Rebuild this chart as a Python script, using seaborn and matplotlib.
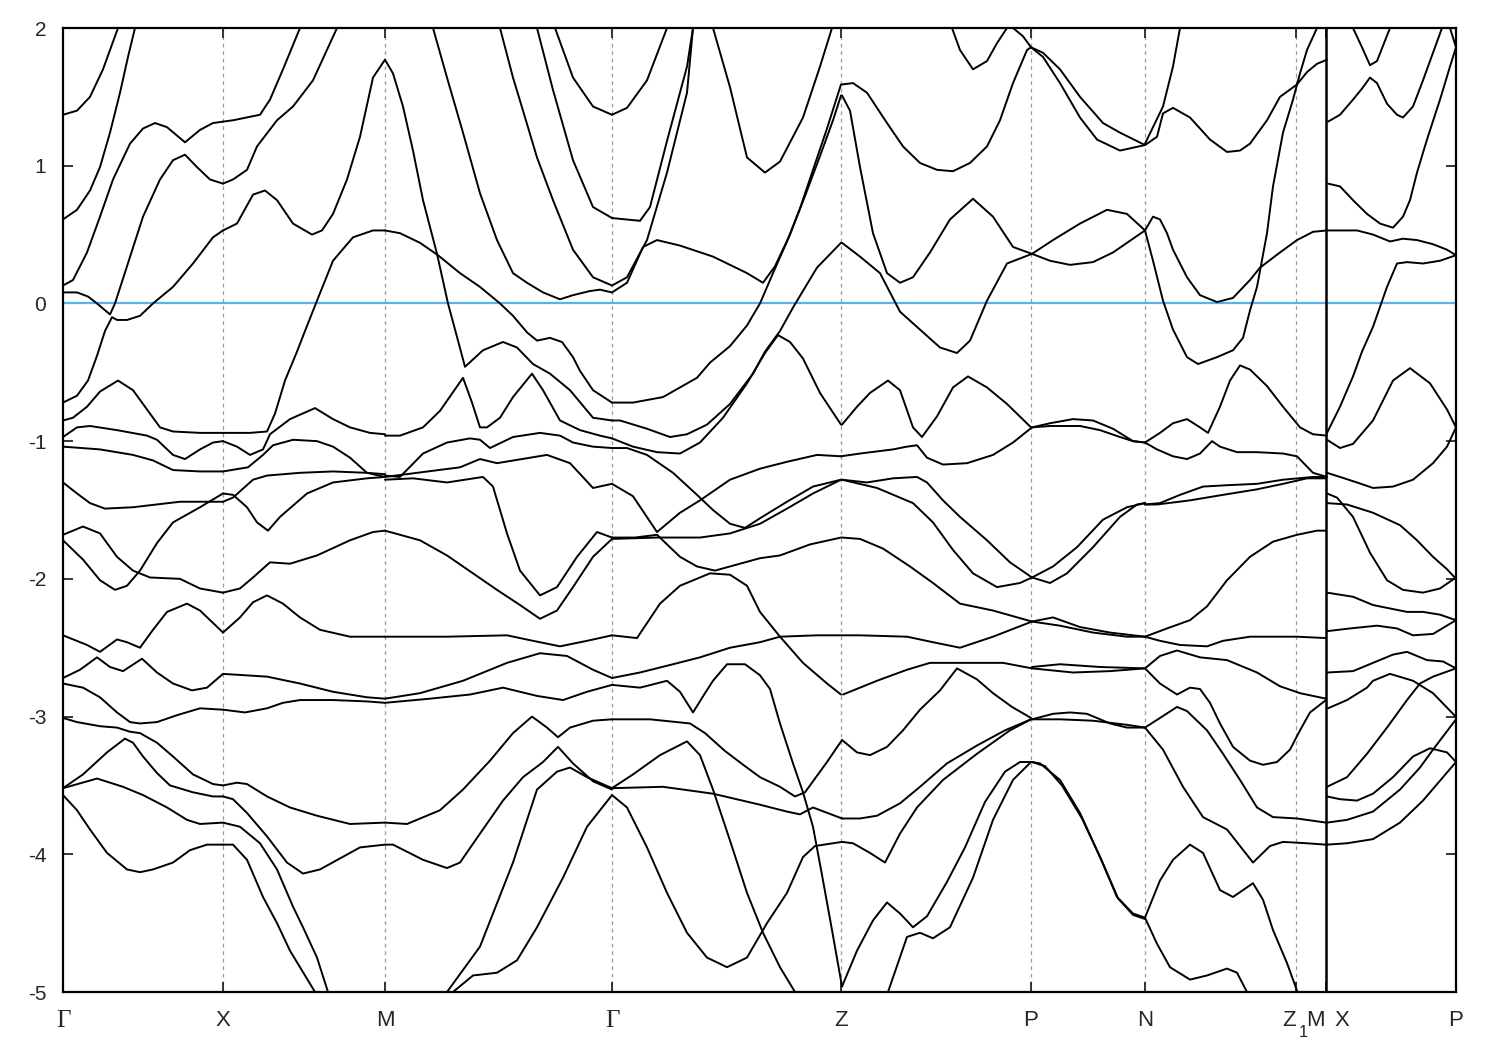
import pandas as pd
import seaborn as sns
import matplotlib.pyplot as plt

# k-path positions (arbitrary path-length units) and labels
KPOINTS = [0, 160, 322, 549, 778, 968, 1082, 1233, 1263, 1393]
FERMI = 0.0

# ---- bands, per path segment: lists of (k, E[eV]) ----
gamma_x = [
    [(0, 1.37), (14, 1.40), (27, 1.50), (40, 1.70), (55, 2.0)],
    [(0, 0.61), (14, 0.68), (27, 0.82), (37, 0.99), (47, 1.24), (57, 1.53), (65, 1.79), (72, 2.0)],
    [(0, 0.13), (10, 0.17), (24, 0.37), (37, 0.63), (50, 0.90), (67, 1.16), (80, 1.27), (92, 1.31),
     (104, 1.28), (122, 1.17), (137, 1.26), (150, 1.31), (160, 1.32)],
    [(0, 0.08), (14, 0.08), (25, 0.05), (34, 0.0), (47, -0.08), (52, 0.0), (64, 0.27), (80, 0.63),
     (97, 0.90), (110, 1.04), (122, 1.08), (134, 0.99), (147, 0.90), (160, 0.87)],
    [(0, -0.72), (14, -0.67), (25, -0.56), (34, -0.38), (42, -0.2), (49, -0.10), (54, -0.12),
     (64, -0.12), (77, -0.09), (90, 0.0), (110, 0.12), (130, 0.29), (150, 0.48), (160, 0.53)],
    [(0, -0.85), (10, -0.83), (24, -0.75), (37, -0.64), (55, -0.56), (70, -0.63), (84, -0.77),
     (97, -0.90), (110, -0.93), (137, -0.94), (160, -0.94)],
    [(0, -0.97), (14, -0.90), (27, -0.89), (54, -0.92), (84, -0.96), (94, -0.99), (110, -1.10),
     (122, -1.13), (137, -1.06), (150, -1.01), (160, -1.0)],
    [(0, -1.04), (37, -1.06), (70, -1.10), (90, -1.14), (110, -1.21), (137, -1.22), (160, -1.22)],
    [(0, -1.30), (14, -1.38), (27, -1.45), (42, -1.49), (70, -1.48), (117, -1.44), (160, -1.44)],
    [(0, -1.68), (20, -1.62), (37, -1.67), (54, -1.84), (70, -1.94), (87, -1.99), (117, -2.0),
     (137, -2.07), (160, -2.10)],
    [(0, -1.72), (20, -1.86), (37, -2.01), (52, -2.08), (64, -2.05), (77, -1.94), (94, -1.74),
     (110, -1.59), (137, -1.48), (160, -1.38)],
    [(0, -2.41), (24, -2.48), (37, -2.53), (54, -2.44), (64, -2.46), (77, -2.50), (90, -2.37),
     (104, -2.24), (124, -2.18), (137, -2.23), (150, -2.32), (160, -2.39)],
    [(0, -2.72), (17, -2.66), (34, -2.57), (47, -2.64), (60, -2.67), (79, -2.58), (94, -2.68),
     (110, -2.76), (129, -2.81), (144, -2.79), (160, -2.69)],
    [(0, -2.76), (20, -2.79), (37, -2.86), (54, -2.97), (67, -3.04), (77, -3.05), (94, -3.04),
     (114, -2.99), (137, -2.94), (160, -2.95)],
    [(0, -3.01), (14, -3.04), (37, -3.07), (54, -3.08), (67, -3.11), (77, -3.12), (94, -3.19),
     (110, -3.29), (130, -3.42), (150, -3.49), (160, -3.50)],
    [(0, -3.52), (20, -3.42), (44, -3.26), (62, -3.16), (70, -3.19), (80, -3.29), (94, -3.41),
     (107, -3.50), (130, -3.55), (150, -3.58), (160, -3.58)],
    [(0, -3.52), (34, -3.45), (60, -3.51), (80, -3.57), (104, -3.66), (124, -3.75), (137, -3.78),
     (160, -3.77)],
    [(0, -3.57), (14, -3.68), (27, -3.82), (44, -3.99), (64, -4.11), (77, -4.13), (90, -4.11),
     (110, -4.06), (127, -3.97), (144, -3.93), (160, -3.93)],
]

x_m = [
    [(160, 1.32), (170, 1.33), (197, 1.37), (207, 1.48), (220, 1.70), (237, 2.0)],
    [(160, 0.87), (170, 0.90), (184, 0.97), (194, 1.14), (214, 1.33), (230, 1.43), (250, 1.62), (274, 2.0)],
    [(160, 0.53), (174, 0.58), (190, 0.79), (202, 0.82), (214, 0.75), (230, 0.58), (249, 0.50),
     (259, 0.53), (270, 0.65), (284, 0.90), (297, 1.21), (310, 1.64), (322, 1.77)],
    [(160, -0.94), (187, -0.94), (204, -0.93), (212, -0.8), (222, -0.56), (234, -0.35), (242, -0.2),
     (254, 0.02), (270, 0.31), (290, 0.48), (310, 0.53), (322, 0.53)],
    [(160, -1.0), (174, -1.04), (187, -1.10), (200, -1.06), (207, -0.95), (227, -0.84), (252, -0.76),
     (270, -0.84), (287, -0.90), (307, -0.94), (322, -0.95)],
    [(160, -1.22), (185, -1.19), (200, -1.10), (210, -1.03), (230, -0.99), (254, -1.0), (270, -1.04),
     (287, -1.12), (304, -1.23), (322, -1.26)],
    [(160, -1.44), (170, -1.41), (190, -1.28), (204, -1.25), (237, -1.23), (270, -1.22), (304, -1.23),
     (322, -1.24)],
    [(160, -1.38), (170, -1.39), (184, -1.48), (194, -1.59), (205, -1.65), (217, -1.55), (244, -1.38),
     (270, -1.30), (304, -1.27), (322, -1.26)],
    [(160, -2.10), (177, -2.07), (190, -1.99), (207, -1.88), (227, -1.89), (254, -1.83), (287, -1.72),
     (310, -1.66), (322, -1.65)],
    [(160, -2.39), (177, -2.28), (190, -2.17), (204, -2.12), (220, -2.18), (237, -2.28), (257, -2.37),
     (287, -2.42), (322, -2.42)],
    [(160, -2.69), (204, -2.71), (237, -2.76), (270, -2.82), (304, -2.86), (322, -2.87)],
    [(160, -2.95), (182, -2.97), (204, -2.94), (220, -2.90), (237, -2.88), (270, -2.88), (304, -2.89),
     (322, -2.90)],
    [(160, -3.50), (174, -3.48), (184, -3.49), (204, -3.58), (227, -3.66), (254, -3.72), (287, -3.78),
     (322, -3.77)],
    [(160, -3.58), (170, -3.60), (184, -3.70), (204, -3.87), (224, -4.06), (240, -4.14), (257, -4.11),
     (297, -3.95), (322, -3.93)],
    [(160, -3.77), (177, -3.80), (197, -3.92), (214, -4.11), (230, -4.38), (240, -4.53), (254, -4.75),
     (265, -5.0)],
    [(160, -3.93), (170, -3.93), (184, -4.04), (200, -4.31), (214, -4.50), (227, -4.70), (252, -5.0)],
]

m_gamma = [
    [(322, 1.77), (330, 1.67), (340, 1.43), (350, 1.11), (360, 0.75), (374, 0.36), (385, 0.0),
     (395, -0.27), (402, -0.46), (420, -0.34), (440, -0.28), (454, -0.32), (470, -0.44), (487, -0.51),
     (507, -0.63), (530, -0.83), (549, -0.85)],
    [(322, 0.53), (337, 0.51), (357, 0.44), (375, 0.35), (397, 0.22), (417, 0.12), (437, 0.0),
     (450, -0.09), (464, -0.21), (474, -0.27), (487, -0.25), (499, -0.28), (510, -0.39), (517, -0.49),
     (530, -0.63), (549, -0.72)],
    [(322, -0.96), (337, -0.96), (360, -0.90), (377, -0.78), (400, -0.54), (409, -0.72), (417, -0.90),
     (424, -0.90), (437, -0.83), (450, -0.68), (469, -0.51), (480, -0.63), (497, -0.85), (517, -0.92),
     (537, -0.96), (549, -0.98)],
    [(322, -1.25), (337, -1.26), (360, -1.09), (384, -1.01), (407, -0.98), (417, -0.99), (427, -1.05),
     (450, -0.97), (477, -0.94), (497, -0.96), (510, -1.01), (530, -1.04), (549, -1.05)],
    [(322, -1.26), (397, -1.19), (417, -1.13), (434, -1.16), (484, -1.10), (507, -1.16), (530, -1.34),
     (549, -1.31)],
    [(322, -1.28), (350, -1.27), (384, -1.30), (420, -1.26), (430, -1.33), (444, -1.67), (457, -1.94),
     (477, -2.12), (494, -2.06), (514, -1.84), (534, -1.66), (549, -1.70)],
    [(322, -1.65), (357, -1.72), (384, -1.83), (410, -1.96), (434, -2.08), (457, -2.19), (477, -2.29),
     (494, -2.23), (510, -2.06), (530, -1.84), (549, -1.71)],
    [(322, -2.42), (384, -2.42), (444, -2.41), (470, -2.45), (497, -2.49), (524, -2.45), (549, -2.41)],
    [(322, -2.87), (357, -2.83), (400, -2.74), (444, -2.61), (477, -2.54), (504, -2.56), (530, -2.66),
     (549, -2.72)],
    [(322, -2.90), (367, -2.87), (407, -2.84), (440, -2.79), (474, -2.85), (500, -2.88), (524, -2.82),
     (549, -2.77)],
    [(322, -3.77), (344, -3.78), (377, -3.68), (400, -3.53), (427, -3.32), (450, -3.12), (469, -3.00),
     (484, -3.08), (495, -3.15), (507, -3.08), (530, -3.03), (549, -3.02)],
    [(322, -3.93), (330, -3.93), (360, -4.04), (384, -4.10), (397, -4.06), (417, -3.85), (440, -3.61),
     (460, -3.44), (480, -3.33), (495, -3.22), (510, -3.34), (530, -3.47), (549, -3.53)],
    [(384, -5.0), (417, -4.67), (450, -4.06), (474, -3.53), (494, -3.40), (507, -3.37), (524, -3.44),
     (549, -3.52)],
    [(390, -5.0), (410, -4.88), (434, -4.86), (454, -4.77), (474, -4.53), (500, -4.17), (524, -3.80),
     (549, -3.57)],
    [(370, 2.0), (384, 1.64), (400, 1.24), (417, 0.80), (434, 0.46), (450, 0.22), (464, 0.15),
     (480, 0.08), (497, 0.03), (510, 0.06), (527, 0.09), (537, 0.10), (549, 0.08)],
    [(437, 2.0), (450, 1.64), (460, 1.40), (474, 1.06), (490, 0.75), (510, 0.39), (530, 0.19), (549, 0.13)],
    [(474, 2.0), (490, 1.55), (510, 1.04), (530, 0.70), (549, 0.62)],
    [(492, 2.0), (510, 1.64), (530, 1.43), (549, 1.37)],
]

gamma_z = [
    [(549, 0.08), (564, 0.15), (580, 0.41), (594, 0.46), (617, 0.42), (650, 0.34), (684, 0.22),
     (700, 0.15), (712, 0.27), (727, 0.50), (742, 0.78), (757, 1.07), (770, 1.33), (778, 1.51)],
    [(549, 0.13), (564, 0.19), (584, 0.46), (604, 0.95), (624, 1.53), (630, 2.0)],
    [(549, 0.62), (577, 0.60), (587, 0.70), (604, 1.18), (624, 1.72), (630, 2.0)],
    [(549, 1.37), (564, 1.42), (584, 1.62), (604, 2.0)],
    [(650, 2.0), (667, 1.57), (684, 1.06), (702, 0.95), (717, 1.03), (740, 1.35), (757, 1.72), (769, 2.0)],
    [(549, -0.72), (570, -0.72), (600, -0.68), (634, -0.54), (647, -0.43), (667, -0.31), (684, -0.16),
     (697, 0.0), (710, 0.22), (724, 0.45), (737, 0.69), (750, 0.97), (764, 1.27), (778, 1.59)],
    [(549, -0.85), (557, -0.85), (584, -0.91), (607, -0.97), (624, -0.95), (644, -0.88), (667, -0.73),
     (690, -0.51), (702, -0.35), (717, -0.20), (730, -0.03), (754, 0.26), (778, 0.44)],
    [(549, -0.98), (570, -1.04), (594, -1.08), (617, -1.09), (637, -1.01), (660, -0.83), (684, -0.58),
     (702, -0.36), (715, -0.23), (727, -0.28), (740, -0.40), (757, -0.65), (778, -0.88)],
    [(549, -1.05), (564, -1.05), (584, -1.10), (610, -1.23), (634, -1.39), (650, -1.50), (667, -1.60),
     (682, -1.63), (697, -1.56), (724, -1.44), (750, -1.33), (778, -1.28)],
    [(549, -1.31), (570, -1.40), (582, -1.53), (594, -1.66), (617, -1.52), (637, -1.43), (667, -1.28),
     (697, -1.20), (724, -1.15), (754, -1.10), (778, -1.11)],
    [(549, -1.70), (572, -1.70), (594, -1.68), (617, -1.84), (634, -1.91), (652, -1.94), (672, -1.90),
     (697, -1.85), (717, -1.83), (747, -1.75), (778, -1.70)],
    [(549, -1.71), (594, -1.70), (637, -1.70), (667, -1.67), (697, -1.60), (724, -1.49), (750, -1.38),
     (778, -1.28)],
    [(549, -2.41), (574, -2.43), (597, -2.18), (617, -2.05), (647, -1.96), (667, -1.97), (684, -2.05),
     (697, -2.24), (717, -2.42), (740, -2.61), (764, -2.76), (778, -2.84)],
    [(549, -2.72), (577, -2.68), (610, -2.62), (637, -2.57), (667, -2.50), (697, -2.46), (717, -2.42),
     (754, -2.41), (778, -2.41)],
    [(549, -2.77), (577, -2.79), (604, -2.74), (617, -2.82), (630, -2.97), (642, -2.83), (650, -2.74),
     (664, -2.62), (682, -2.62), (697, -2.70), (707, -2.80), (717, -3.05), (730, -3.34), (740, -3.55),
     (750, -3.80), (759, -4.15), (769, -4.55), (779, -4.96)],
    [(549, -3.02), (587, -3.02), (627, -3.05), (642, -3.12), (662, -3.25), (682, -3.36), (697, -3.44),
     (717, -3.51), (732, -3.58), (742, -3.55), (752, -3.45), (764, -3.33), (779, -3.17)],
    [(549, -3.52), (600, -3.51), (650, -3.56), (697, -3.64), (724, -3.69), (737, -3.71), (750, -3.66),
     (779, -3.74)],
    [(549, -3.57), (564, -3.66), (584, -3.95), (604, -4.28), (624, -4.57), (644, -4.75), (664, -4.82),
     (684, -4.75), (704, -4.50), (724, -4.28), (740, -4.02), (752, -3.94), (779, -3.91)],
    [(549, -3.52), (570, -3.42), (597, -3.28), (624, -3.18), (637, -3.28), (650, -3.53), (667, -3.90),
     (684, -4.28), (700, -4.57), (717, -4.82), (732, -5.0)],
]

z_p = [
    [(779, 1.59), (790, 1.60), (804, 1.53), (824, 1.31), (840, 1.14), (857, 1.02), (874, 0.97),
     (890, 0.96), (907, 1.02), (924, 1.14), (937, 1.33), (950, 1.60), (964, 1.84), (968, 1.86)],
    [(779, 1.51), (787, 1.40), (797, 0.99), (810, 0.51), (824, 0.22), (837, 0.15), (850, 0.19),
     (867, 0.37), (887, 0.61), (910, 0.76), (930, 0.63), (950, 0.41), (969, 0.36)],
    [(889, 2.0), (897, 1.84), (910, 1.70), (924, 1.76), (934, 1.89), (944, 2.0)],
    [(950, 2.0), (960, 1.94), (968, 1.86)],
    [(779, 0.44), (797, 0.34), (817, 0.22), (837, -0.06), (857, -0.19), (877, -0.32), (894, -0.36),
     (907, -0.27), (924, 0.02), (944, 0.29), (969, 0.36)],
    [(779, -0.88), (794, -0.75), (807, -0.65), (825, -0.56), (837, -0.63), (850, -0.90), (859, -0.97),
     (874, -0.82), (890, -0.61), (905, -0.53), (924, -0.61), (944, -0.73), (968, -0.90)],
    [(778, -1.11), (797, -1.09), (830, -1.06), (844, -1.04), (854, -1.03), (864, -1.12), (880, -1.17),
     (904, -1.16), (930, -1.10), (950, -1.01), (969, -0.90)],
    [(779, -1.28), (804, -1.30), (830, -1.27), (854, -1.26), (864, -1.30), (880, -1.43), (897, -1.55),
     (924, -1.72), (947, -1.88), (969, -1.99)],
    [(779, -1.28), (814, -1.34), (850, -1.45), (870, -1.59), (890, -1.79), (910, -1.96), (934, -2.06),
     (957, -2.03), (969, -1.99)],
    [(779, -1.70), (797, -1.71), (820, -1.78), (847, -1.91), (870, -2.03), (897, -2.18), (930, -2.23),
     (969, -2.31)],
    [(779, -2.41), (797, -2.41), (844, -2.42), (870, -2.46), (897, -2.50), (930, -2.42), (969, -2.31)],
    [(780, -2.84), (814, -2.74), (844, -2.66), (867, -2.61), (897, -2.61), (940, -2.61), (969, -2.65)],
    [(779, -3.17), (794, -3.26), (807, -3.28), (824, -3.22), (840, -3.10), (857, -2.95), (877, -2.81),
     (894, -2.65), (914, -2.73), (930, -2.83), (949, -2.93), (968, -3.01)],
    [(779, -3.74), (797, -3.74), (814, -3.72), (837, -3.63), (857, -3.51), (884, -3.34), (914, -3.21),
     (942, -3.10), (968, -3.02)],
    [(779, -3.91), (790, -3.92), (807, -3.99), (822, -4.06), (837, -3.85), (854, -3.66), (880, -3.46),
     (914, -3.27), (947, -3.10), (968, -3.02)],
    [(779, -4.96), (794, -4.70), (810, -4.48), (824, -4.35), (837, -4.43), (850, -4.53), (864, -4.45),
     (884, -4.20), (902, -3.95), (922, -3.62), (942, -3.40), (957, -3.33), (968, -3.33)],
    [(825, -5.0), (844, -4.60), (857, -4.57), (870, -4.61), (887, -4.53), (910, -4.17), (930, -3.75),
     (950, -3.46), (968, -3.33)],
]

p_n = [
    [(968, 1.86), (980, 1.82), (997, 1.70), (1017, 1.50), (1040, 1.31), (1057, 1.24), (1082, 1.15)],
    [(968, 1.86), (980, 1.79), (997, 1.60), (1017, 1.35), (1034, 1.19), (1057, 1.11), (1082, 1.15)],
    [(969, 0.36), (990, 0.46), (1017, 0.58), (1044, 0.68), (1064, 0.65), (1082, 0.53)],
    [(969, 0.36), (987, 0.31), (1007, 0.28), (1030, 0.30), (1050, 0.37), (1082, 0.53)],
    [(969, -0.90), (987, -0.87), (1010, -0.84), (1030, -0.85), (1050, -0.91), (1070, -1.0), (1082, -1.01)],
    [(969, -0.90), (987, -0.89), (1017, -0.89), (1037, -0.92), (1057, -0.97), (1070, -1.0), (1082, -1.01)],
    [(969, -1.99), (987, -2.03), (1004, -1.96), (1030, -1.77), (1057, -1.55), (1074, -1.46), (1082, -1.45)],
    [(969, -1.99), (990, -1.91), (1014, -1.77), (1040, -1.57), (1064, -1.48), (1082, -1.45)],
    [(969, -2.31), (997, -2.34), (1030, -2.39), (1064, -2.42), (1082, -2.42)],
    [(969, -2.31), (990, -2.28), (1017, -2.35), (1047, -2.39), (1082, -2.42)],
    [(969, -2.65), (1010, -2.68), (1047, -2.67), (1082, -2.65)],
    [(969, -2.64), (997, -2.62), (1037, -2.64), (1082, -2.65)],
    [(969, -3.02), (990, -2.98), (1007, -2.97), (1024, -2.98), (1047, -3.05), (1064, -3.08), (1082, -3.08)],
    [(969, -3.02), (997, -3.02), (1030, -3.03), (1064, -3.06), (1082, -3.08)],
    [(969, -3.33), (977, -3.34), (997, -3.46), (1017, -3.70), (1037, -4.02), (1054, -4.31), (1070, -4.43),
     (1082, -4.46)],
    [(969, -3.33), (982, -3.36), (999, -3.50), (1019, -3.74), (1039, -4.05), (1055, -4.32), (1070, -4.44),
     (1082, -4.47)],
]

n_z1_m = [
    [(1082, 1.16), (1090, 1.28), (1100, 1.43), (1110, 1.72), (1117, 2.0)],
    [(1082, 1.15), (1094, 1.21), (1100, 1.38), (1110, 1.42), (1127, 1.35), (1147, 1.19), (1164, 1.10),
     (1177, 1.11), (1187, 1.16), (1204, 1.33), (1217, 1.50), (1234, 1.59)],
    [(1234, 1.59), (1244, 1.68), (1254, 1.74), (1264, 1.77)],
    [(1234, 1.59), (1237, 1.67), (1244, 1.84), (1254, 2.0)],
    [(1082, 0.53), (1090, 0.63), (1097, 0.61), (1104, 0.51), (1110, 0.39), (1124, 0.19), (1137, 0.06),
     (1154, 0.01), (1170, 0.04), (1187, 0.17), (1197, 0.26), (1217, 0.37), (1234, 0.46), (1250, 0.52),
     (1264, 0.53)],
    [(1082, 0.53), (1090, 0.31), (1100, 0.02), (1110, -0.19), (1124, -0.39), (1135, -0.44), (1154, -0.39),
     (1170, -0.34), (1180, -0.25), (1187, -0.05), (1194, 0.12), (1204, 0.51), (1210, 0.85), (1220, 1.24),
     (1230, 1.48), (1234, 1.59)],
    [(1082, -1.01), (1097, -0.94), (1110, -0.87), (1124, -0.84), (1137, -0.90), (1145, -0.94),
     (1157, -0.75), (1167, -0.56), (1177, -0.45), (1187, -0.48), (1204, -0.60), (1220, -0.75),
     (1237, -0.90), (1250, -0.95), (1264, -0.96)],
    [(1082, -1.01), (1094, -1.06), (1110, -1.11), (1124, -1.13), (1137, -1.09), (1149, -1.0), (1157, -1.04),
     (1174, -1.08), (1194, -1.08), (1220, -1.09), (1234, -1.11), (1250, -1.23), (1264, -1.26)],
    [(1082, -1.46), (1097, -1.45), (1117, -1.39), (1140, -1.33), (1164, -1.32), (1194, -1.31),
     (1220, -1.28), (1250, -1.26), (1263, -1.26)],
    [(1082, -1.46), (1094, -1.46), (1127, -1.43), (1160, -1.39), (1194, -1.35), (1220, -1.31),
     (1244, -1.27), (1263, -1.27)],
    [(1082, -2.42), (1104, -2.36), (1127, -2.30), (1144, -2.20), (1164, -2.01), (1187, -1.84),
     (1210, -1.73), (1234, -1.68), (1254, -1.65), (1263, -1.65)],
    [(1082, -2.42), (1097, -2.45), (1117, -2.48), (1144, -2.49), (1160, -2.45), (1187, -2.42),
     (1234, -2.42), (1263, -2.43)],
    [(1082, -2.65), (1097, -2.56), (1114, -2.52), (1137, -2.57), (1164, -2.59), (1194, -2.68),
     (1217, -2.78), (1237, -2.83), (1263, -2.87)],
    [(1082, -2.65), (1097, -2.76), (1114, -2.84), (1127, -2.79), (1137, -2.80), (1147, -2.90),
     (1157, -3.05), (1170, -3.22), (1187, -3.32), (1200, -3.35), (1214, -3.33), (1227, -3.24),
     (1237, -3.10), (1247, -2.97), (1263, -2.88)],
    [(1082, -3.08), (1097, -3.01), (1114, -2.93), (1124, -2.96), (1144, -3.10), (1160, -3.27),
     (1177, -3.46), (1194, -3.66), (1210, -3.73), (1234, -3.74), (1263, -3.77)],
    [(1082, -3.08), (1100, -3.24), (1120, -3.51), (1140, -3.73), (1164, -3.82), (1177, -3.94),
     (1190, -4.06), (1207, -3.94), (1220, -3.91), (1244, -3.92), (1263, -3.93)],
    [(1082, -4.46), (1097, -4.19), (1110, -4.04), (1127, -3.93), (1140, -3.99), (1157, -4.26),
     (1170, -4.31), (1180, -4.26), (1190, -4.21), (1200, -4.33), (1210, -4.55), (1224, -4.79), (1234, -4.99)],
    [(1082, -4.46), (1094, -4.65), (1107, -4.82), (1127, -4.91), (1144, -4.88), (1164, -4.83),
     (1174, -4.86), (1184, -5.0)],
]

x_p = [
    [(1290, 2.0), (1299, 1.86), (1307, 1.73), (1314, 1.76), (1327, 2.0)],
    [(1265, 1.32), (1277, 1.37), (1290, 1.48), (1299, 1.56), (1307, 1.64), (1314, 1.60), (1324, 1.45),
     (1334, 1.37), (1340, 1.35), (1350, 1.43), (1360, 1.62), (1370, 1.82), (1379, 2.0)],
    [(1387, 2.0), (1393, 1.86)],
    [(1393, 1.86), (1387, 1.72), (1377, 1.48), (1364, 1.19), (1354, 0.95), (1347, 0.75), (1340, 0.63),
     (1330, 0.55), (1317, 0.58), (1304, 0.65), (1290, 0.75), (1277, 0.85), (1265, 0.87)],
    [(1265, 0.53), (1294, 0.53), (1310, 0.50), (1327, 0.45), (1340, 0.47), (1354, 0.46), (1370, 0.43),
     (1384, 0.39), (1393, 0.35)],
    [(1264, -0.94), (1277, -0.75), (1290, -0.53), (1299, -0.35), (1310, -0.17), (1324, 0.12), (1334, 0.29),
     (1344, 0.30), (1360, 0.29), (1377, 0.31), (1393, 0.35)],
    [(1264, -0.99), (1277, -1.05), (1290, -1.02), (1310, -0.85), (1330, -0.56), (1347, -0.47),
     (1367, -0.58), (1384, -0.77), (1393, -0.90)],
    [(1264, -1.23), (1277, -1.26), (1294, -1.30), (1310, -1.34), (1330, -1.33), (1350, -1.28),
     (1370, -1.16), (1384, -1.04), (1393, -0.90)],
    [(1264, -1.38), (1274, -1.41), (1290, -1.55), (1307, -1.81), (1324, -2.01), (1340, -2.08),
     (1360, -2.10), (1377, -2.07), (1393, -1.99)],
    [(1264, -1.45), (1284, -1.46), (1310, -1.52), (1337, -1.61), (1354, -1.72), (1370, -1.84),
     (1384, -1.93), (1393, -2.0)],
    [(1264, -2.10), (1290, -2.13), (1310, -2.19), (1344, -2.24), (1360, -2.24), (1377, -2.26), (1393, -2.30)],
    [(1264, -2.38), (1287, -2.36), (1314, -2.34), (1334, -2.36), (1350, -2.41), (1370, -2.40), (1393, -2.30)],
    [(1264, -2.68), (1290, -2.67), (1310, -2.61), (1330, -2.55), (1344, -2.53), (1364, -2.59),
     (1380, -2.60), (1393, -2.65)],
    [(1265, -2.94), (1284, -2.88), (1304, -2.79), (1310, -2.74), (1327, -2.69), (1350, -2.74),
     (1370, -2.83), (1394, -3.01)],
    [(1264, -3.51), (1284, -3.44), (1304, -3.27), (1324, -3.08), (1344, -2.88), (1357, -2.76),
     (1370, -2.71), (1393, -2.65)],
    [(1264, -3.58), (1277, -3.60), (1294, -3.61), (1310, -3.56), (1330, -3.44), (1350, -3.29),
     (1367, -3.23), (1384, -3.26), (1393, -3.33)],
    [(1264, -3.77), (1284, -3.75), (1310, -3.69), (1337, -3.53), (1357, -3.37), (1370, -3.24), (1393, -3.02)],
    [(1264, -3.93), (1284, -3.92), (1310, -3.89), (1337, -3.77), (1360, -3.61), (1393, -3.33)],
]

segments = {"GX": gamma_x, "XM": x_m, "MG": m_gamma, "GZ": gamma_z,
            "ZP": z_p, "PN": p_n, "NZ": n_z1_m, "XP": x_p}

rows = []
for seg, curves in segments.items():
    for i, curve in enumerate(curves):
        for k, e in curve:
            rows.append((f"{seg}{i}", k, e))
bands = pd.DataFrame(rows, columns=["curve", "k", "E"])

sns.set_style("white")
plt.rcParams["font.family"] = ["Liberation Sans", "DejaVu Sans"]
plt.rcParams["axes.unicode_minus"] = False

fig = plt.figure(figsize=(15, 10.5), dpi=100)
ax = fig.add_axes([63 / 1500, 58 / 1050, 1393 / 1500, 964 / 1050])

# vertical guides at high-symmetry points
for kp in KPOINTS[1:-1]:
    ax.axvline(kp, color="#9a9a9a", lw=0.9, ls=(0, (3, 3)), zorder=0)
ax.axvline(KPOINTS[8], color="black", lw=1.8, zorder=3)

ax.axhline(FERMI, color="#56B4E9", lw=1.6, zorder=1)

sns.lineplot(data=bands, x="k", y="E", units="curve", estimator=None, sort=False,
             color="black", linewidth=1.4, legend=False, ax=ax, zorder=2)

ax.set_xlim(KPOINTS[0], KPOINTS[-1])
ax.set_ylim(-5, 2)
ax.set_xlabel("")
ax.set_ylabel("")

ax.set_xticks(KPOINTS)
ax.set_xticklabels([])
ax.set_yticks(range(-5, 3))
ax.tick_params(axis="x", direction="in", top=True, bottom=True, length=7.5, width=1.3)
ax.tick_params(axis="y", direction="in", left=True, right=True, length=7.5, width=1.3,
               labelsize=15, pad=12)
for sp in ax.spines.values():
    sp.set_linewidth(1.6)
    sp.set_color("black")

# k-point labels
trans = ax.get_xaxis_transform()
ylab = -0.030
sans_labels = [(160, "X"), (322, "M"), (778, "Z"), (968, "P"), (1082, "N"), (1393, "P")]
for kx, lab in sans_labels:
    ax.text(kx, ylab, lab, transform=trans, ha="center", va="center", fontsize=16)
for kx in (0, 549):
    ax.text(kx, ylab, "\u0393", transform=trans, ha="center", va="center", fontsize=18,
            family=["Liberation Serif", "DejaVu Serif"])
ax.text(1226, ylab, "Z", transform=trans, ha="center", va="center", fontsize=16)
ax.text(1240, ylab - 0.012, "1", transform=trans, ha="center", va="center", fontsize=12)
ax.text(1252, ylab, "M", transform=trans, ha="center", va="center", fontsize=16)
ax.text(1279, ylab, "X", transform=trans, ha="center", va="center", fontsize=16)

fig.savefig("out.png", dpi=100)
